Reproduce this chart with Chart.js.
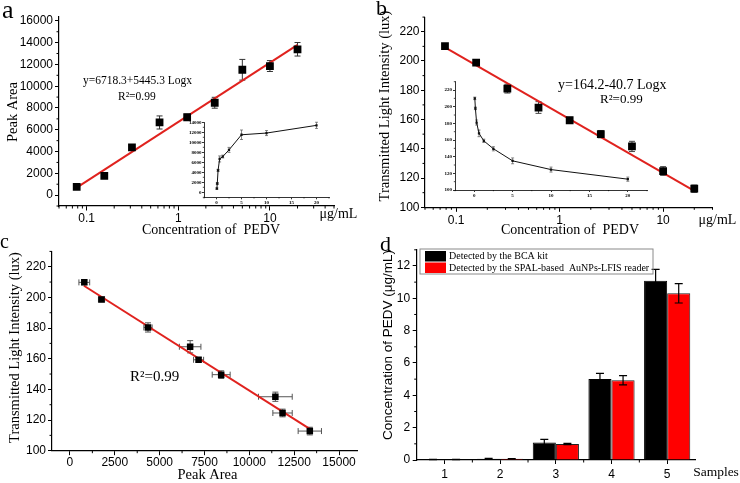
<!DOCTYPE html>
<html><head><meta charset="utf-8">
<script src="https://cdn.jsdelivr.net/npm/chart.js@4.4.1/dist/chart.umd.min.js"></script>
<style>
html,body{margin:0;padding:0;background:#fff;}
#wrap{position:relative;width:740px;height:483px;overflow:hidden;background:#fff;}
canvas{position:absolute;left:0;top:0;}
</style></head><body>
<div id="wrap">
<canvas id="insetA" width="740" height="483"></canvas>
<canvas id="insetB" width="740" height="483"></canvas>
<canvas id="chartA" width="740" height="483"></canvas>
<canvas id="chartB" width="740" height="483"></canvas>
<canvas id="chartC" width="740" height="483"></canvas>
<canvas id="chartD" width="740" height="483"></canvas>
</div>
<script>
// ---------------- data ----------------
const concentrations = [0.078, 0.156, 0.3125, 0.625, 1.25, 2.5, 5, 10, 20];
const peakArea = [750, 1760, 4390, 6670, 7150, 8480, 11510, 11850, 13390];
const peakAreaErr = [150, 150, 200, 600, 280, 500, 950, 500, 620];
const lightIntensity = [210.2, 198.9, 181.1, 168.2, 159.5, 150.0, 141.6, 124.8, 112.7];
const lightErr = [1.5, 1.5, 3, 4, 2, 2.5, 3.5, 3, 2.5];
const insetLight = [210, 198, 181, 168, 159, 149.5, 135, 124.5, 113];
const corrPeakArea = [800, 1760, 4350, 6700, 7170, 8430, 11450, 11850, 13370];
const corrPeakAreaErr = [300, 170, 230, 600, 280, 500, 940, 540, 650];
const corrLight = [209.8, 198.7, 180.4, 167.8, 159.3, 149.6, 135.2, 124.6, 112.8];
const corrLightErr = [1.5, 1.5, 3, 4, 1.5, 2.5, 3, 2.5, 2.5];
const fitAx = [0.078, 20], fitAy = [690, 13800];
const fitBx = [0.078, 20], fitBy = [209.3, 111.2];
const fitCx = [780, 13430], fitCy = [207.6, 113.8];
const samples = ['1', '2', '3', '4', '5'];
const bcaKit = [0.03, 0.08, 1.08, 5.01, 11.09];
const bcaKitErr = [0.01, 0.02, 0.2, 0.35, 0.7];
const lfisReader = [0.03, 0.08, 0.99, 4.93, 10.31];
const lfisReaderErr = [0.01, 0.01, 0.04, 0.29, 0.6];
// tick values
const ticksLogX = [0.1, 1, 10];
const ticksPeakY = [0, 2000, 4000, 6000, 8000, 10000, 12000, 14000, 16000];
const ticksLightY = [100, 120, 140, 160, 180, 200, 220];
const ticksInsetX = [0, 5, 10, 15, 20];
const ticksInsetPeakY = [0, 2000, 4000, 6000, 8000, 10000, 12000, 14000];
const ticksPeakX = [0, 2500, 5000, 7500, 10000, 12500, 15000];
const ticksConcY = [0, 2, 4, 6, 8, 10, 12];

// ---------------- helpers ----------------
const RED = '#e0221e';
const SERIF = "'Liberation Serif'";
const SANS = "'Liberation Sans'";
Chart.defaults.font.family = SANS;
Chart.defaults.color = '#000';

function pts(xs, ys) { return xs.map((x, i) => ({ x: x, y: ys[i] })); }
function linMinor(min, max, step, majors) {
  const out = [];
  for (let k = Math.ceil(min / step); k * step <= max + 1e-9; k++) {
    const v = k * step;
    if (!majors.some(m => Math.abs(m - v) < step * 1e-6)) out.push(v);
  }
  return out;
}
function logMinor(min, max) {
  const out = [];
  for (let e = Math.floor(Math.log10(min)); e <= Math.ceil(Math.log10(max)); e++) {
    for (let m = 2; m <= 9; m++) {
      const v = m * Math.pow(10, e);
      if (v >= min * 0.9999 && v <= max * 1.0001) out.push(v);
    }
  }
  return out;
}
function axis(o) {
  const horizontal = o.pos === 'bottom';
  const ticks = { font: o.font, color: '#000', padding: o.pad, autoSkip: false, maxRotation: 0, minRotation: 0 };
  if (o.type !== 'category') ticks.callback = v => String(v);
  const a = {
    type: o.type, position: o.pos, offset: o.offset || false,
    afterFit: s => { if (horizontal) s.height = o.size; else s.width = o.size; },
    grid: { display: true, drawOnChartArea: false, drawTicks: true, tickLength: o.tl, color: '#000', lineWidth: o.lw || 1, offset: false },
    border: { display: true, color: '#000', width: o.bw || 1.2 },
    ticks: ticks
  };
  if (o.min !== undefined) { a.min = o.min; a.max = o.max; }
  if (o.values) a.afterBuildTicks = s => { s.ticks = o.values.map(v => ({ value: v })); };
  return a;
}
function padFor(r) { return { left: 0, top: r.t, right: 740 - r.r, bottom: 0 }; }
function baseOptions(r, scales) {
  return {
    responsive: false, animation: false, devicePixelRatio: 1, events: [],
    layout: { padding: padFor(r) },
    plugins: { legend: { display: false }, tooltip: { enabled: false } },
    scales: scales
  };
}
function minorTicks(cfg) {
  return { id: 'minorTicks', afterDraw(chart) {
    const ctx = chart.ctx; ctx.save(); ctx.strokeStyle = '#000'; ctx.lineWidth = cfg.lw || 1;
    Object.keys(cfg.axes).forEach(id => {
      const s = chart.scales[id], a = cfg.axes[id];
      a.vals.forEach(v => {
        const p = s.getPixelForValue(v);
        ctx.beginPath();
        if (s.isHorizontal()) { ctx.moveTo(p, s.top); ctx.lineTo(p, s.top + a.len); }
        else { ctx.moveTo(s.right, p); ctx.lineTo(s.right - a.len, p); }
        ctx.stroke();
      });
    });
    ctx.restore();
  } };
}
function drawErrors(chart, st) {
  const ctx = chart.ctx;
  chart.data.datasets.forEach((ds, di) => {
    if (!ds.errY && !ds.errX) return;
    const meta = chart.getDatasetMeta(di);
    const xs = chart.scales[meta.xAxisID], ys = chart.scales[meta.yAxisID];
    ctx.save(); ctx.strokeStyle = st.color; ctx.lineWidth = st.width;
    meta.data.forEach((el, i) => {
      const raw = ds.data[i];
      const yv = (typeof raw === 'object') ? raw.y : raw;
      const px = el.x, py = el.y, c = st.cap;
      ctx.beginPath();
      if (ds.errY) {
        const y1 = ys.getPixelForValue(yv + ds.errY[i]), y2 = ys.getPixelForValue(yv - ds.errY[i]);
        ctx.moveTo(px, y1); ctx.lineTo(px, y2);
        ctx.moveTo(px - c, y1); ctx.lineTo(px + c, y1);
        ctx.moveTo(px - c, y2); ctx.lineTo(px + c, y2);
      }
      if (ds.errX) {
        const x1 = xs.getPixelForValue(raw.x - ds.errX[i]), x2 = xs.getPixelForValue(raw.x + ds.errX[i]);
        ctx.moveTo(x1, py); ctx.lineTo(x2, py);
        ctx.moveTo(x1, py - c); ctx.lineTo(x1, py + c);
        ctx.moveTo(x2, py - c); ctx.lineTo(x2, py + c);
      }
      ctx.stroke();
    });
    ctx.restore();
  });
}
function errorBars(st) {
  return { id: 'errorBars',
    beforeDatasetsDraw(chart) { if (!st.after) drawErrors(chart, st); },
    afterDatasetsDraw(chart) { if (st.after) drawErrors(chart, st); } };
}
function texts(items) {
  return { id: 'texts', afterDraw(chart) {
    const ctx = chart.ctx;
    items.forEach(it => {
      ctx.save(); ctx.font = it.font; ctx.fillStyle = '#000';
      ctx.textAlign = it.align || 'center'; ctx.textBaseline = it.base || 'middle';
      ctx.translate(it.x, it.y); if (it.rot) ctx.rotate(it.rot);
      ctx.fillText(it.t, 0, 0); ctx.restore();
    });
  } };
}
function legendBox(b) {
  return { id: 'legendBox', afterDraw(chart) {
    const ctx = chart.ctx; ctx.save();
    ctx.strokeStyle = '#8a8a8a'; ctx.lineWidth = 1; ctx.strokeRect(b.x, b.y, b.w, b.h);
    chart.data.datasets.forEach((ds, i) => {
      const y = b.y + 2 + i * b.row;
      ctx.fillStyle = ds.backgroundColor; ctx.fillRect(b.x + 5, y, 21, b.row - 1);
      ctx.fillStyle = '#000'; ctx.font = b.font; ctx.textAlign = 'left'; ctx.textBaseline = 'middle';
      ctx.fillText(ds.label, b.x + 29, y + (b.row - 1) / 2 + 0.5);
    });
    ctx.restore();
  } };
}
const tickFont = { family: SANS, size: 12 };
const insetFont = { family: SERIF, size: 5, weight: 'bold' };
const ROT = -Math.PI / 2;

// ---------------- inset a ----------------
const rIA = { l: 204, r: 329, t: 122.3, b: 197.3 };
new Chart(document.getElementById('insetA'), {
  type: 'scatter',
  data: { datasets: [{ data: pts(concentrations, peakArea), errY: peakAreaErr, showLine: true, borderColor: '#111', borderWidth: 1,
    pointStyle: 'rect', pointRadius: 1.6, backgroundColor: '#111', pointBorderWidth: 0 }] },
  options: baseOptions(rIA, {
    x: axis({ type: 'linear', pos: 'bottom', min: -2.5, max: 22.5, values: ticksInsetX, size: 483 - rIA.b, tl: 2, pad: 0.5, font: insetFont, bw: 0.8, lw: 0.8 }),
    y: axis({ type: 'linear', pos: 'left', min: -1000, max: 14000, values: ticksInsetPeakY, size: rIA.l, tl: 2, pad: 0.5, font: insetFont, bw: 0.8, lw: 0.8 })
  }),
  plugins: [errorBars({ after: false, color: '#555', width: 0.7, cap: 1.5 }),
    minorTicks({ lw: 0.7, axes: { x: { vals: linMinor(-2.5, 22.5, 2.5, ticksInsetX), len: 1.2 }, y: { vals: linMinor(-1000, 14000, 1000, ticksInsetPeakY), len: 1.2 } } })]
});

// ---------------- inset b ----------------
const rIB = { l: 455, r: 647, t: 81.7, b: 190 };
new Chart(document.getElementById('insetB'), {
  type: 'scatter',
  data: { datasets: [{ data: pts(concentrations, insetLight), errY: lightErr, showLine: true, borderColor: '#111', borderWidth: 1,
    pointStyle: 'rect', pointRadius: 1.6, backgroundColor: '#111', pointBorderWidth: 0 }] },
  options: baseOptions(rIB, {
    x: axis({ type: 'linear', pos: 'bottom', min: -2.5, max: 22.5, values: ticksInsetX, size: 483 - rIB.b, tl: 2, pad: 0.5, font: insetFont, bw: 0.8, lw: 0.8 }),
    y: axis({ type: 'linear', pos: 'left', min: 100, max: 230, values: ticksLightY, size: rIB.l, tl: 2, pad: 1, font: insetFont, bw: 0.8, lw: 0.8 })
  }),
  plugins: [errorBars({ after: false, color: '#555', width: 0.7, cap: 1.5 }),
    minorTicks({ lw: 0.7, axes: { x: { vals: linMinor(-2.5, 22.5, 2.5, ticksInsetX), len: 1.2 }, y: { vals: linMinor(100, 230, 10, ticksLightY), len: 1.2 } } })]
});

// ---------------- panel a ----------------
const rA = { l: 59, r: 334, t: 16.5, b: 206 };
new Chart(document.getElementById('chartA'), {
  type: 'scatter',
  data: { datasets: [
    { data: pts(concentrations, peakArea), errY: peakAreaErr, pointStyle: 'rect', pointRadius: 5.5, backgroundColor: '#000', pointBorderWidth: 0 },
    { type: 'line', data: pts(fitAx, fitAy), borderColor: RED, borderWidth: 2, pointRadius: 0, fill: false }
  ] },
  options: baseOptions(rA, {
    x: axis({ type: 'logarithmic', pos: 'bottom', min: 0.05, max: 50, values: ticksLogX, size: 483 - rA.b, tl: 4.5, pad: 0.5, font: tickFont }),
    y: axis({ type: 'linear', pos: 'left', min: -1000, max: 16400, values: ticksPeakY, size: rA.l, tl: 4, pad: 2, font: tickFont })
  }),
  plugins: [errorBars({ after: false, color: '#333', width: 1, cap: 3 }),
    minorTicks({ axes: { x: { vals: logMinor(0.05, 50), len: 2.5 }, y: { vals: linMinor(-1000, 16400, 1000, ticksPeakY), len: 2.5 } } }),
    texts([
      { t: 'a', x: 2, y: 18, font: '26px ' + SERIF, align: 'left', base: 'alphabetic' },
      { t: 'Peak Area', x: 13, y: 112, font: '14.5px ' + SERIF, rot: ROT },
      { t: 'Concentration of  PEDV', x: 211, y: 230, font: '14px ' + SERIF },
      { t: 'μg/mL', x: 338.5, y: 214, font: '14px ' + SERIF },
      { t: 'y=6718.3+5445.3 Logx', x: 83, y: 81, font: '11.5px ' + SERIF, align: 'left' },
      { t: 'R²=0.99', x: 118, y: 97, font: '11.5px ' + SERIF, align: 'left' }
    ])]
});

// ---------------- panel b ----------------
const rB = { l: 425, r: 712.5, t: 17.1, b: 207.3 };
new Chart(document.getElementById('chartB'), {
  type: 'scatter',
  data: { datasets: [
    { data: pts(concentrations, lightIntensity), errY: lightErr, pointStyle: 'rect', pointRadius: 5.5, backgroundColor: '#000', pointBorderWidth: 0 },
    { type: 'line', data: pts(fitBx, fitBy), borderColor: RED, borderWidth: 2, pointRadius: 0, fill: false }
  ] },
  options: baseOptions(rB, {
    x: axis({ type: 'logarithmic', pos: 'bottom', min: 0.05, max: 30, values: ticksLogX, size: 483 - rB.b, tl: 4.5, pad: 2, font: tickFont }),
    y: axis({ type: 'linear', pos: 'left', min: 100, max: 230, values: ticksLightY, size: rB.l, tl: 4, pad: 1.5, font: tickFont })
  }),
  plugins: [errorBars({ after: false, color: '#444', width: 1, cap: 3 }),
    minorTicks({ axes: { x: { vals: logMinor(0.05, 30), len: 2.5 }, y: { vals: linMinor(100, 230, 10, ticksLightY), len: 2.5 } } }),
    texts([
      { t: 'b', x: 376, y: 15, font: '22px ' + SERIF, align: 'left', base: 'alphabetic' },
      { t: 'Transmitted Light Intensity (lux)', x: 385, y: 106, font: '14.5px ' + SERIF, rot: ROT },
      { t: 'Concentration of  PEDV', x: 570, y: 230, font: '14px ' + SERIF },
      { t: 'μg/mL', x: 717.5, y: 220, font: '14px ' + SERIF },
      { t: 'y=164.2-40.7 Logx', x: 558, y: 85, font: '14px ' + SERIF, align: 'left' },
      { t: 'R²=0.99', x: 600, y: 100, font: '13px ' + SERIF, align: 'left' }
    ])]
});

// ---------------- panel c ----------------
const rC = { l: 52, r: 357, t: 251.4, b: 450.7 };
new Chart(document.getElementById('chartC'), {
  type: 'scatter',
  data: { datasets: [
    { data: pts(corrPeakArea, corrLight), errY: corrLightErr, errX: corrPeakAreaErr, pointStyle: 'rect', pointRadius: 4.6, backgroundColor: '#000', pointBorderWidth: 0 },
    { type: 'line', data: pts(fitCx, fitCy), borderColor: RED, borderWidth: 2, pointRadius: 0, fill: false }
  ] },
  options: baseOptions(rC, {
    x: axis({ type: 'linear', pos: 'bottom', min: -1000, max: 16000, values: ticksPeakX, size: 483 - rC.b, tl: 4.5, pad: 0.5, font: tickFont }),
    y: axis({ type: 'linear', pos: 'left', min: 100, max: 230, values: ticksLightY, size: rC.l, tl: 4, pad: 2, font: tickFont })
  }),
  plugins: [errorBars({ after: false, color: '#555', width: 1, cap: 3 }),
    minorTicks({ axes: { x: { vals: linMinor(-1000, 16000, 1250, ticksPeakX), len: 2.5 }, y: { vals: linMinor(100, 230, 10, ticksLightY), len: 2.5 } } }),
    texts([
      { t: 'c', x: 0, y: 248, font: '20px ' + SERIF, align: 'left', base: 'alphabetic' },
      { t: 'Transmitted Light Intensity (lux)', x: 15, y: 347.5, font: '14.5px ' + SERIF, rot: ROT },
      { t: 'Peak Area', x: 207.5, y: 475, font: '14.5px ' + SERIF },
      { t: 'R²=0.99', x: 130, y: 377, font: '15px ' + SERIF, align: 'left' }
    ])]
});

// ---------------- panel d ----------------
const rD = { l: 416.7, r: 695, t: 249.8, b: 460 };
new Chart(document.getElementById('chartD'), {
  type: 'bar',
  data: { labels: samples, datasets: [
    { label: 'Detected by the BCA kit', data: bcaKit, errY: bcaKitErr, backgroundColor: '#000', borderColor: '#000', borderWidth: 1 },
    { label: 'Detected by the SPAL-based  AuNPs-LFIS reader', data: lfisReader, errY: lfisReaderErr, backgroundColor: '#ff0000', borderColor: '#222', borderWidth: 1 }
  ] },
  options: Object.assign(baseOptions(rD, {
    x: axis({ type: 'category', pos: 'bottom', offset: true, size: 483 - rD.b, tl: 4, pad: 3, font: tickFont }),
    y: axis({ type: 'linear', pos: 'left', min: 0, max: 13, values: ticksConcY, size: rD.l, tl: 4, pad: 2.5, font: tickFont })
  }), { datasets: { bar: { categoryPercentage: 0.83, barPercentage: 1.0 } } }),
  plugins: [errorBars({ after: true, color: '#000', width: 1.2, cap: 4 }),
    minorTicks({ axes: { x: { vals: [0.5, 1.5, 2.5, 3.5], len: 2.5 }, y: { vals: linMinor(0, 13, 1, ticksConcY), len: 2.5 } } }),
    legendBox({ x: 420, y: 249, w: 233, h: 25, row: 11.5, font: '10px ' + SERIF }),
    texts([
      { t: 'd', x: 380, y: 251, font: '22px ' + SERIF, align: 'left', base: 'alphabetic' },
      { t: 'Concentration of PEDV (μg/mL)', x: 388, y: 345, font: '13.5px ' + SANS, rot: ROT },
      { t: 'Samples', x: 716, y: 472, font: '13.5px ' + SERIF }
    ])]
});
</script>
</body></html>
